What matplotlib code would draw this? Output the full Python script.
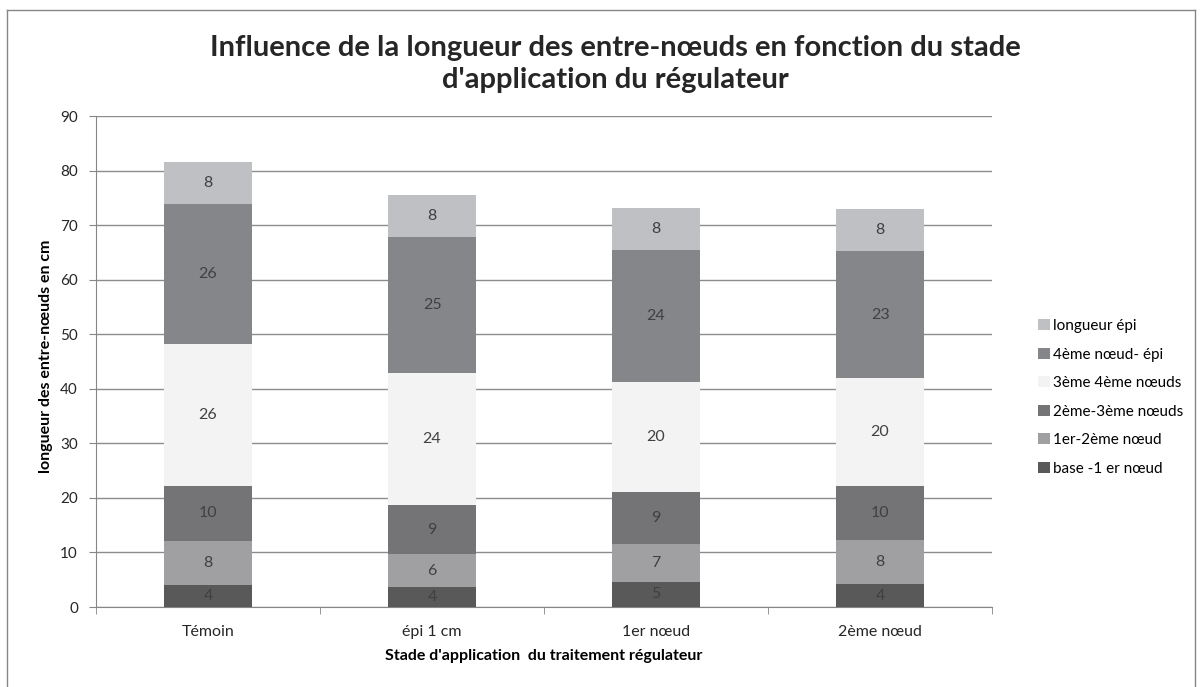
import numpy as np
import matplotlib.pyplot as plt
from matplotlib.lines import Line2D

plt.rcParams['font.family'] = ['Lato', 'DejaVu Sans']

# ── Data ───────────────────────────────────────────────────────────────────
stades = ['Témoin', 'épi 1 cm', '1er nœud', '2ème nœud']

series_names = ['base -1 er nœud', '1er-2ème nœud', '2ème-3ème nœuds',
                '3ème 4ème nœuds', '4ème nœud- épi', 'longueur épi']

base_1er = [4.1, 3.6, 4.6, 4.2]
n1_n2 = [8.0, 6.1, 7.0, 8.0]
n2_n3 = [10.1, 9.0, 9.4, 9.9]
n3_n4 = [26.0, 24.2, 20.2, 19.9]
n4_epi = [25.7, 25.0, 24.2, 23.2]
long_epi = [7.7, 7.7, 7.8, 7.8]

series_vals = [base_1er, n1_n2, n2_n3, n3_n4, n4_epi, long_epi]
colors = ['#595959', '#a0a0a3', '#747477', '#f2f3f2', '#858689', '#bfc0c3']

# ── Figure ─────────────────────────────────────────────────────────────────
fig = plt.figure(figsize=(12.01, 6.87), dpi=100)
ax = fig.add_axes([0.080, 0.1164, 0.746, 0.7146])

x = np.arange(len(stades))
bottom = np.zeros(len(stades))
for name, vals, col in zip(series_names, series_vals, colors):
    bars = ax.bar(x, vals, width=0.395, bottom=bottom, color=col,
                  label=name, zorder=3)
    ax.bar_label(bars, labels=[f'{v:.0f}' for v in vals],
                 label_type='center', fontsize=11.5, color='#404040')
    bottom += np.array(vals)

ax.set_xlim(-0.5, len(stades) - 0.5)
ax.set_ylim(0, 90)
ax.set_yticks(range(0, 91, 10))
ax.yaxis.grid(True, color='#8c8c8c', linewidth=1, zorder=0)
ax.set_axisbelow(True)

ax.set_xticks(x)
ax.set_xticklabels(stades)
ax.set_xticks(np.arange(-0.5, len(stades)), minor=True)
ax.tick_params(axis='x', which='major', length=0, pad=13, labelsize=11.5,
               colors='#262626')
ax.tick_params(axis='x', which='minor', length=5, color='#868686')
ax.tick_params(axis='y', length=5, color='#868686', labelsize=11,
               labelcolor='#262626', pad=8)

for side in ['top', 'right']:
    ax.spines[side].set_visible(False)
ax.spines['left'].set_color('#868686')
ax.spines['bottom'].set_color('#868686')

ax.set_xlabel("Stade d'application  du traitement régulateur",
              fontsize=11.5, fontweight='bold', labelpad=7)
ax.set_ylabel('longueur des entre-nœuds en cm', fontsize=11.5,
              fontweight='bold')
ax.yaxis.set_label_coords(-0.048, 0.51)

fig.text(0.512, 0.907, "Influence de la longueur des entre-nœuds en fonction du stade\n"
         "d'application du régulateur", ha='center', va='center',
         fontsize=21, fontweight='bold', color='#262626', linespacing=1.3)

handles, labels = ax.get_legend_handles_labels()
leg = ax.legend(handles[::-1], labels[::-1], loc='center left',
                bbox_to_anchor=(1.043, 0.427), frameon=False, fontsize=11,
                handlelength=0.75, handleheight=0.75, handletextpad=0.25,
                labelspacing=0.95, borderpad=0)

# outer chart frame
for xs, ys in [((0.006, 0.006), (0.0, 0.986)),
               ((0.006, 0.995), (0.986, 0.986)),
               ((0.995, 0.995), (0.0, 0.986))]:
    fig.add_artist(Line2D(xs, ys, color='#868686', linewidth=1,
                          transform=fig.transFigure))

fig.savefig('out.png', dpi=100)
